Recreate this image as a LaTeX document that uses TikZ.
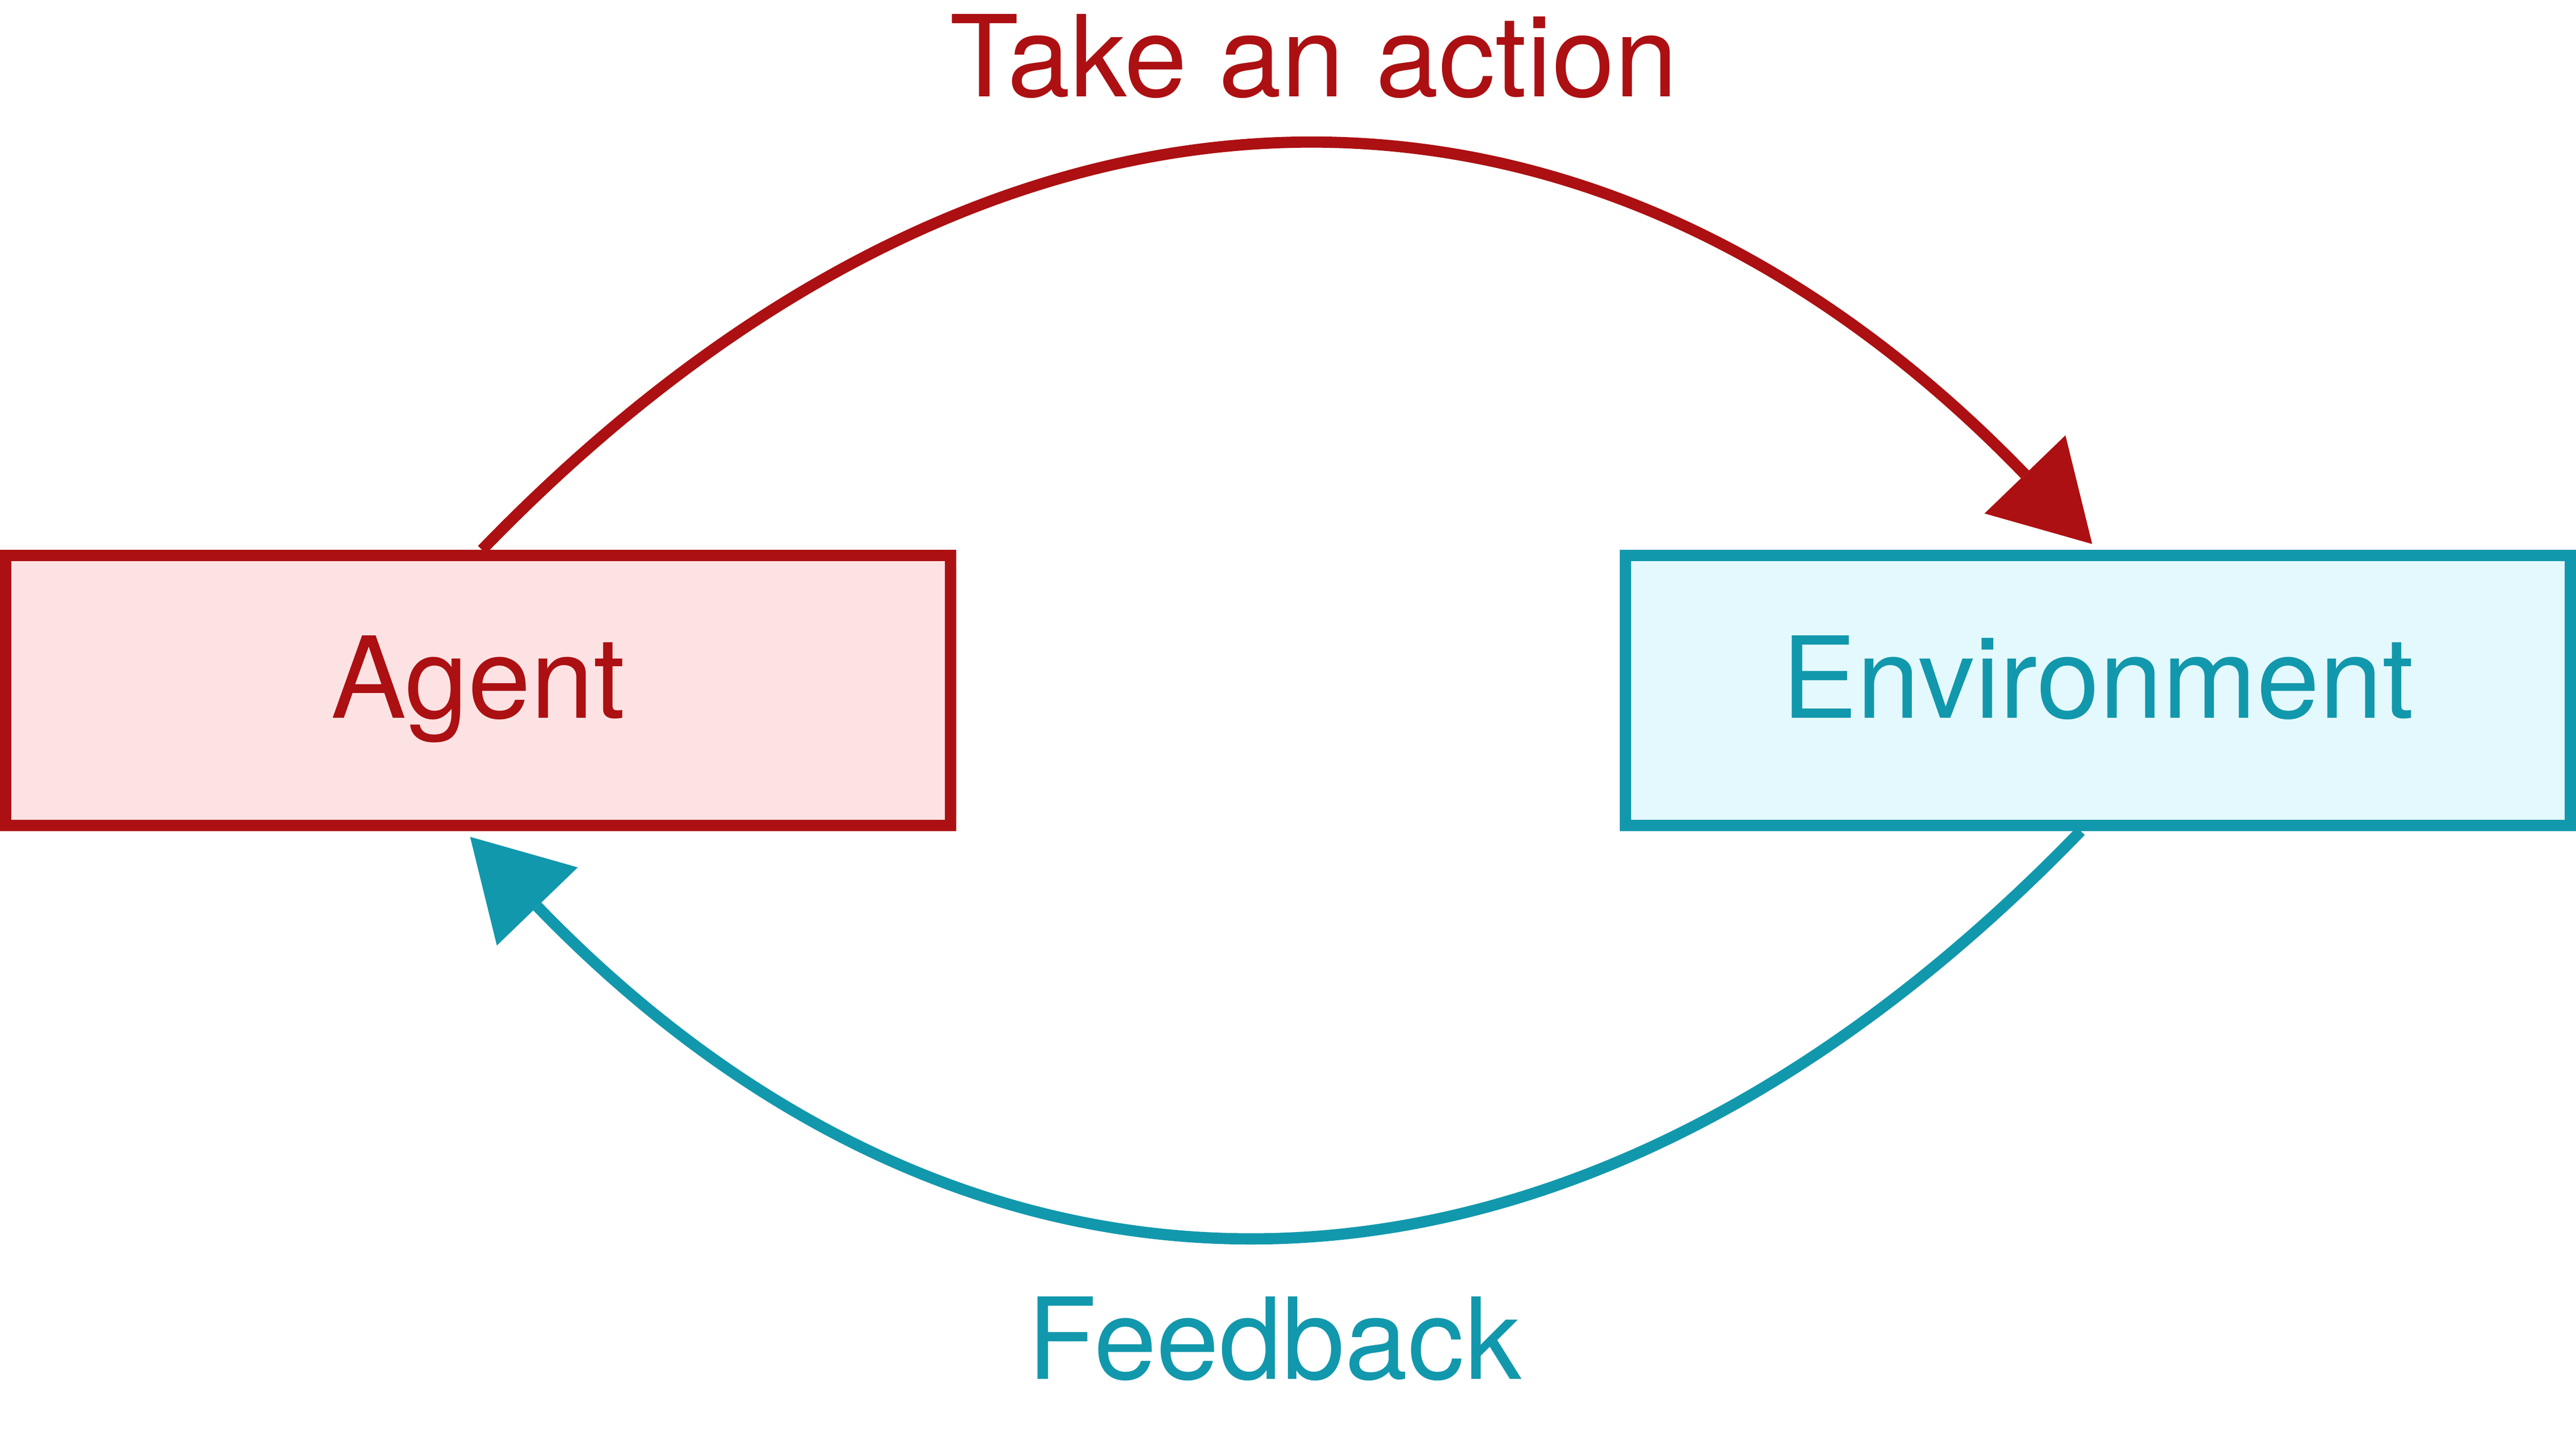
\documentclass[tikz,border=0pt]{standalone}
\usepackage{fontspec}
\setmainfont{TeX Gyre Heros}
\usetikzlibrary{arrows.meta}

\definecolor{actred}{RGB}{172,16,18}
\definecolor{actpink}{RGB}{253,226,227}
\definecolor{fbteal}{RGB}{18,152,172}
\definecolor{fbcyan}{RGB}{228,249,253}

\begin{document}
\begin{tikzpicture}[
    box/.style={draw, line width=0.25cm, minimum width=21cm, minimum height=6cm,
        font=\fontsize{71.5}{86}\selectfont, text height=1.88cm, text depth=0.645cm},
    lbl/.style={font=\fontsize{71.5}{86}\selectfont, anchor=base, inner sep=0pt},
    curvy/.style={line width=0.25cm, looseness=1.17, shorten >=0.18cm,
        -{Triangle[length=2.15cm, width=2.5cm, line width=0pt]}}
]

    \useasboundingbox (0,0) rectangle (57.26,31.86);

    % boxes
    \node[box, color=actred, fill=actpink] (agent) at (10.625,16.515) {Agent};
    \node[box, color=fbteal, fill=fbcyan] (env) at (46.63,16.515) {Environment};

    % Labels
    \node[lbl, color=actred] (action) at (29.2,29.71) {Take an action};
    \node[lbl, color=fbteal] (feedback) at (28.33,1.21) {Feedback};

    % arrows
    \draw [curvy, actred] ([xshift=0.09cm]agent.north) to[out=46, in=134] (env.north);
    \draw [curvy, fbteal] ([xshift=-0.38cm]env.south) to[out=226, in=-46] ([xshift=-0.3cm]agent.south);

\end{tikzpicture}
\end{document}
